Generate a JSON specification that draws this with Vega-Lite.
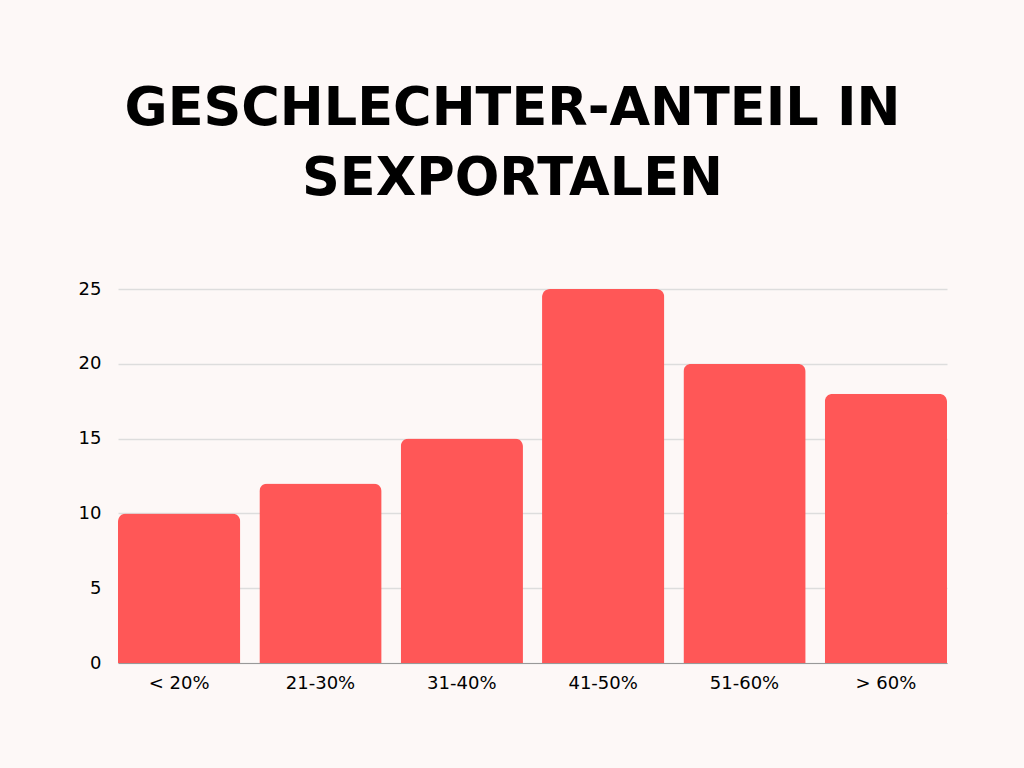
{
  "$schema": "https://vega.github.io/schema/vega-lite/v6.json",
  "width": 829,
  "height": 374,
  "autosize": {"type": "none"},
  "padding": {"left": 118, "top": 289, "right": 77, "bottom": 105},
  "background": "#fdf8f7",
  "title": {
    "text": ["GESCHLECHTER-ANTEIL IN", "SEXPORTALEN"],
    "anchor": "middle",
    "dx": -20,
    "offset": 74,
    "font": "DejaVu Sans",
    "fontSize": 52.5,
    "fontWeight": "bold",
    "lineHeight": 70,
    "color": "#000000"
  },
  "data": {
    "values": [
      {"gruppe": "< 20%", "wert": 10},
      {"gruppe": "21-30%", "wert": 12},
      {"gruppe": "31-40%", "wert": 15},
      {"gruppe": "41-50%", "wert": 25},
      {"gruppe": "51-60%", "wert": 20},
      {"gruppe": "> 60%", "wert": 18}
    ]
  },
  "mark": {"type": "bar", "color": "#ff5757", "cornerRadiusTopLeft": 8, "cornerRadiusTopRight": 8},
  "encoding": {
    "x": {
      "field": "gruppe", "type": "nominal", "sort": null,
      "scale": {"paddingInner": 0.135, "paddingOuter": 0},
      "axis": {"title": null, "labelAngle": 0, "labelFont": "DejaVu Sans", "labelFontSize": 18, "labelColor": "#000000", "labelPadding": 11, "ticks": false, "domain": true, "domainColor": "#999999"}
    },
    "y": {
      "field": "wert", "type": "quantitative",
      "scale": {"domain": [0, 25]},
      "axis": {"title": null, "values": [0, 5, 10, 15, 20, 25], "labelFont": "DejaVu Sans", "labelFontSize": 18, "labelColor": "#000000", "labelPadding": 17, "ticks": false, "domain": false, "gridColor": "#dddddd", "gridWidth": 1.5}
    }
  },
  "config": {"view": {"stroke": null}}
}
